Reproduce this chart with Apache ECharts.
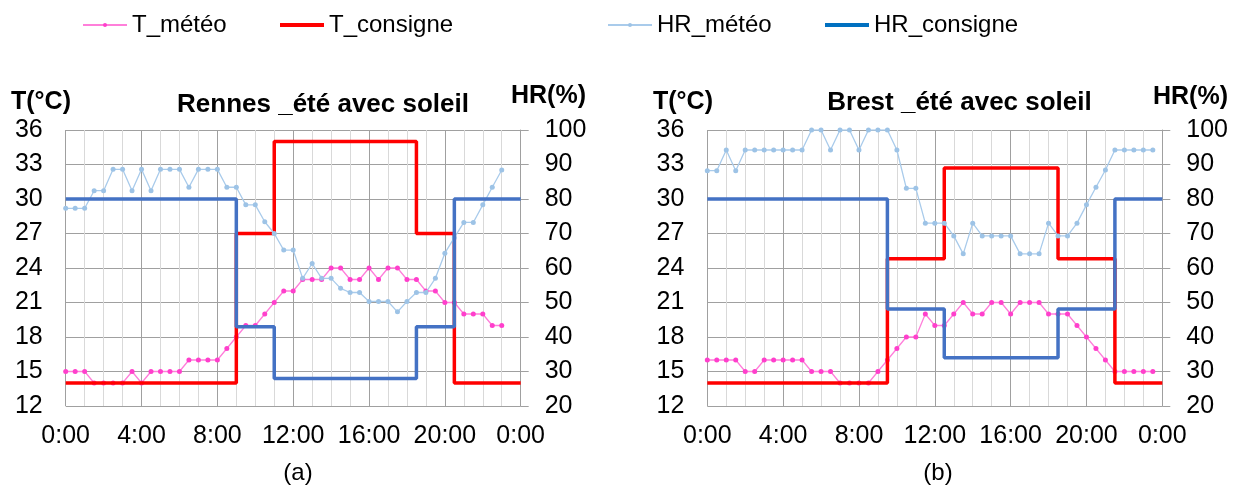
<!DOCTYPE html>
<html>
<head>
<meta charset="utf-8">
<script src="https://cdn.jsdelivr.net/npm/echarts@6/dist/echarts.min.js"></script>
<style>
html,body{margin:0;padding:0;background:#fff;}
#chart{width:1240px;height:491px;}
</style>
</head>
<body>
<div id="chart"></div>
<script>
// ---- DATA ----
const seriesNames = ['T_météo', 'T_consigne', 'HR_météo', 'HR_consigne'];
const chartTitles = ['Rennes _été avec soleil', 'Brest _été avec soleil'];
const panelLabels = ['(a)', '(b)'];
const xTickLabels = ['0:00', '4:00', '8:00', '12:00', '16:00', '20:00', '0:00'];

// half-hourly weather readings (hours from 0:00)
const rennesTMeteo = [15,15,15,14,14,14,14,15,14,15,15,15,15,16,16,16,16,17,18,19,19,20,21,22,22,23,23,23,24,24,23,23,24,23,24,24,23,23,22,22,21,21,20,20,20,19,19];
const rennesHRMeteo = [77.3,77.3,77.3,82.4,82.4,88.6,88.6,82.4,88.6,82.4,88.6,88.6,88.6,83.4,88.6,88.6,88.6,83.4,83.4,78.3,78.3,73.4,70,65.2,65.2,57,61.3,57,57,54.1,52.9,52.9,50.3,50.3,50.3,47.3,50.3,52.9,52.9,57,64.3,68.8,73.2,73.2,78.3,83.4,88.4];
const brestTMeteo = [16,16,16,16,15,15,16,16,16,16,16,15,15,15,14,14,14,14,15,16,17,18,18,20,19,19,20,21,20,20,21,21,20,21,21,21,20,20,20,19,18,17,16,15,15,15,15,15];
const brestHRMeteo = [88.2,88.2,94.2,88.2,94.2,94.2,94.2,94.2,94.2,94.2,94.2,100,100,94.2,100,100,94.2,100,100,100,94.2,83.1,83.1,73,73,73,69.3,64.1,73,69.3,69.3,69.3,69.3,64.1,64.1,64.1,73,69.3,69.3,73,78.3,83.4,88.4,94.2,94.2,94.2,94.2,94.2];

// set-point step changes (hour, value held from that hour)
const rennesStepHours = [0, 9, 11, 18.5, 20.5, 24];
const rennesTConsigne = [14, 27, 35, 27, 14, 14];
const rennesHRConsigne = [80, 43, 28, 43, 80, 80];
const brestStepHours = [0, 9.5, 12.5, 18.5, 21.5, 24];
const brestTConsigne = [14, 24.8, 32.7, 24.8, 14, 14];
const brestHRConsigne = [80, 48.1, 34, 48.1, 80, 80];

// ---- BUILD ----
const FONT = "'Liberation Sans', Arial, sans-serif";
const halfHour = arr => arr.map((v, i) => [i * 0.5, v]);
const steps = (hours, vals) => hours.map((h, i) => [h, vals[i]]);

const COL = {
  tLine: '#FF7FDA', tDot: '#FF3FCC',
  tSet: '#FF0000',
  hLine: '#A9CBEB', hDot: '#9DC3E6',
  hSet: '#4472C4'
};

const panels = [
  {tm: rennesTMeteo, hm: rennesHRMeteo, sh: rennesStepHours, tc: rennesTConsigne, hc: rennesHRConsigne},
  {tm: brestTMeteo, hm: brestHRMeteo, sh: brestStepHours, tc: brestTConsigne, hc: brestHRConsigne}
];

const gridLefts = [65.7, 707.3];
const grids = gridLefts.map(l => ({left: l, top: 130, width: 455, height: 276}));

const xAxes = [], yAxes = [], series = [];
panels.forEach((p, g) => {
  xAxes.push({
    type: 'value', gridIndex: g, min: 0, max: 24, interval: 4,
    axisLabel: {formatter: v => xTickLabels[Math.round(v / 4)], fontSize: 25, color: '#000', fontFamily: FONT, margin: 18, showMinLabel: true, showMaxLabel: true},
    axisLine: {show: false}, axisTick: {show: false},
    splitLine: {show: true, lineStyle: {color: '#A0A0A0', width: 1}},
    minorTick: {show: false, splitNumber: 4},
    minorSplitLine: {show: true, lineStyle: {color: '#D9D9D9', width: 1}}
  });
  yAxes.push({
    type: 'value', gridIndex: g, position: 'left', min: 12, max: 36, interval: 3,
    axisLabel: {fontSize: 25, color: '#000', fontFamily: FONT, margin: 23},
    axisLine: {show: false}, axisTick: {show: false},
    splitLine: {show: true, lineStyle: {color: '#A0A0A0', width: 1}}
  });
  yAxes.push({
    type: 'value', gridIndex: g, position: 'right', min: 20, max: 100, interval: 10,
    axisLabel: {fontSize: 25, color: '#000', fontFamily: FONT, margin: 24},
    axisLine: {show: true, lineStyle: {color: '#A0A0A0', width: 1}},
    axisTick: {show: true, length: 8, lineStyle: {color: '#A0A0A0'}},
    splitLine: {show: false}
  });
  series.push({
    name: seriesNames[0], type: 'line', xAxisIndex: g, yAxisIndex: g * 2,
    data: halfHour(p.tm), symbol: 'circle', symbolSize: 5, showSymbol: true,
    lineStyle: {color: COL.tLine, width: 1.3}, itemStyle: {color: COL.tDot}, z: 2
  });
  series.push({
    name: seriesNames[1], type: 'line', xAxisIndex: g, yAxisIndex: g * 2, step: 'end',
    data: steps(p.sh, p.tc), symbol: 'none',
    lineStyle: {color: COL.tSet, width: 3.5}, itemStyle: {color: COL.tSet}, z: 3
  });
  series.push({
    name: seriesNames[2], type: 'line', xAxisIndex: g, yAxisIndex: g * 2 + 1,
    data: halfHour(p.hm), symbol: 'circle', symbolSize: 5, showSymbol: true,
    lineStyle: {color: COL.hLine, width: 1.3}, itemStyle: {color: COL.hDot}, z: 4
  });
  series.push({
    name: seriesNames[3], type: 'line', xAxisIndex: g, yAxisIndex: g * 2 + 1, step: 'end',
    data: steps(p.sh, p.hc), symbol: 'none',
    lineStyle: {color: COL.hSet, width: 3.5}, itemStyle: {color: COL.hSet}, z: 5
  });
});

const legendLefts = [82, 280, 607, 825];
const legends = seriesNames.map((n, i) => {
  const thick = (i === 1 || i === 3);
  const d = {name: n};
  if (thick) {
    d.icon = 'rect';
    if (i === 3) d.itemStyle = {color: '#0070C0'};
  }
  return {
    data: [d], left: legendLefts[i], top: 13, padding: 0,
    itemWidth: 44, itemHeight: thick ? 4 : 5,
    textStyle: {fontSize: 24, color: '#000', fontFamily: FONT}
  };
});

const txt = (text, x, y, size, bold, align) => ({
  type: 'text', x: x, y: y,
  style: {text: text, fill: '#000', font: (bold ? 'bold ' : '') + size + 'px ' + FONT, align: align || 'center', verticalAlign: 'middle'}
});

const graphics = [
  txt('T(°C)', 11, 102.5, 25, true, 'left'),
  txt(chartTitles[0], 323, 105, 26, true),
  txt('HR(%)', 511, 96, 25, true, 'left'),
  txt('T(°C)', 653, 102.5, 25, true, 'left'),
  txt(chartTitles[1], 959.5, 103.3, 26, true),
  txt('HR(%)', 1153, 96.7, 25, true, 'left'),
  txt(panelLabels[0], 298, 473, 24, false),
  txt(panelLabels[1], 938, 473, 24, false)
];

const chart = echarts.init(document.getElementById('chart'), null, {renderer: 'canvas'});
chart.setOption({
  backgroundColor: '#fff',
  animation: false,
  textStyle: {fontFamily: FONT},
  legend: legends,
  grid: grids,
  xAxis: xAxes,
  yAxis: yAxes,
  series: series,
  graphic: graphics
});
</script>
</body>
</html>
